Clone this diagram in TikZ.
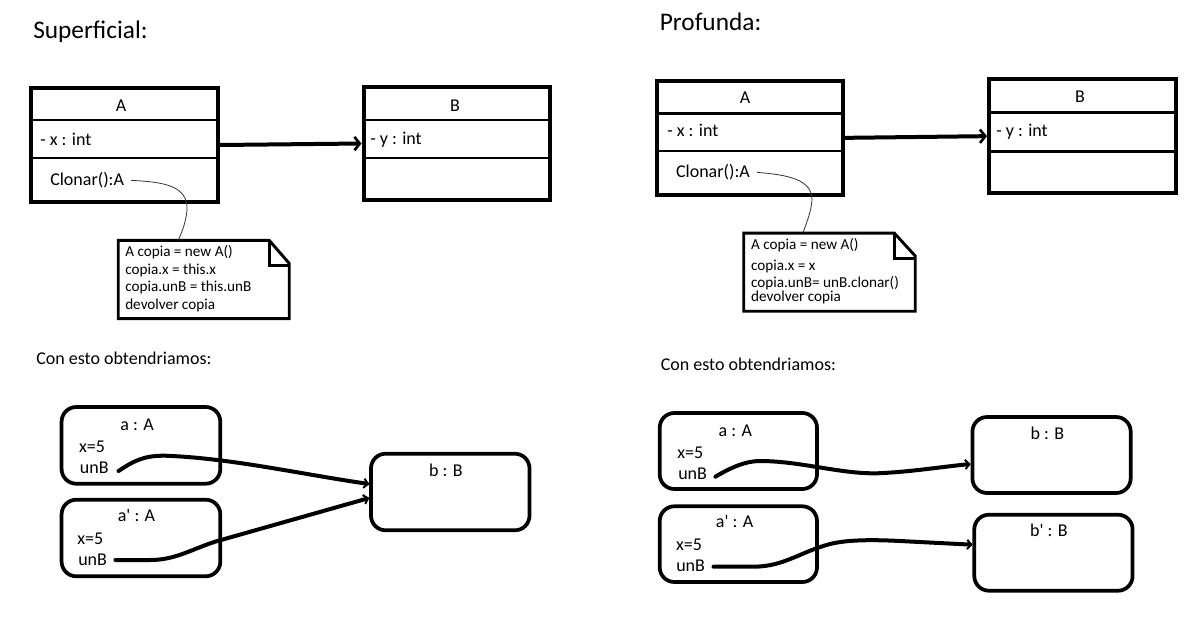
\documentclass[tikz,border=0pt]{standalone}
\usepackage{fontspec}
\setmainfont{Carlito}
\usetikzlibrary{arrows.meta,fit,calc}
\begin{document}
\begin{tikzpicture}[x=0.75pt,y=-0.75pt,
  classbox/.style={draw, line width=3pt, inner sep=0pt},
  sep/.style={line width=2pt},
  notebox/.style={inner sep=0pt},
  notedraw/.style={line width=2.2pt, line join=miter},
  objbox/.style={draw, line width=2.8pt, rounded corners=11pt, inner sep=0pt},
  txt/.style={anchor=base west, inner sep=0pt, font=\fontsize{13.5}{16}\selectfont},
  ctxt/.style={anchor=base, inner sep=0pt, font=\fontsize{13.5}{16}\selectfont},
  title/.style={anchor=base west, inner sep=0pt, font=\fontsize{19}{22}\selectfont},
  notetxt/.style={anchor=base west, inner sep=0pt, font=\fontsize{11.4}{13}\selectfont},
  assoc/.style={line width=3pt, -{Straight Barb[length=4pt,width=10pt,line width=2pt]}},
  ref/.style={line width=3pt, line cap=round, -{Straight Barb[length=3pt,width=7pt,line width=1.5pt]}},
  link/.style={line width=0.6pt, draw=black!80}
]
\useasboundingbox (0,0) rectangle (1200,629);

% ================= LEFT: Superficial =================
\node[title] (t1) at (33,38) {Superficial:};

\node[classbox, fit={(31,88) (218,202)}] (A1) {};
\draw[sep] (31,120) -- (218,120);
\draw[sep] (31,158) -- (218,158);
\node[ctxt] (A1n) at (121,111) {A};
\node[txt] (A1x) at (40,145.7) {- x : int};
\node[txt] (c1) at (50,185.7) {Clonar():A};

\node[classbox, fit={(363.5,87) (550,200)}] (B1) {};
\draw[sep] (363.5,120) -- (550,120);
\draw[sep] (363.5,158) -- (550,158);
\node[ctxt] (B1n) at (455,111) {B};
\node[txt] (B1y) at (370,144) {- y : int};

\draw[assoc] (A1.east) -- (B1.west);

\node[notebox, fit={(118.5,240.7) (289,318.3)}] (N1) {};
\draw[notedraw] (N1.south west) -- (N1.north west) -- ($(N1.north east)+(-20,0)$)
  -- ($(N1.north east)+(0,23)$) -- (N1.south east) -- cycle;
\draw[notedraw] ($(N1.north east)+(-20,0)$) -- ($(N1.north east)+(-20,25)$) -- ($(N1.north east)+(0,25)$);
\node[notetxt] (N1a) at (125,256.7) {A copia = new A()};
\node[notetxt] (N1b) at (125,274) {copia.x = this.x};
\node[notetxt] (N1c) at (125,291.7) {copia.unB = this.unB};
\node[notetxt] (N1d) at (125,309) {devolver copia};
\draw[link] ($(c1.east)+(7,0)$) .. controls (165,182) and (188,186) .. (187,210)
  .. controls (186,222) and (182,232) .. ($(N1.north west)!0.35!(N1.north east)$);

\node[txt] (t2) at (36,364.3) {Con esto obtendriamos:};

\node[objbox, fit={(61.6,407) (220.3,483.7)}] (oa1) {};
\node[ctxt] (oa1n) at (137,430.7) {a : A};
\node[txt] (oa1x) at (78.8,452.3) {x=5};
\node[txt] (oa1u) at (79.6,473.3) {unB};

\node[objbox, fit={(61.6,499.7) (220.3,576.3)}] (oa2) {};
\node[ctxt] (oa2n) at (136.5,521.7) {a\textquotesingle{} : A};
\node[txt] (oa2x) at (77,544) {x=5};
\node[txt] (oa2u) at (78,565) {unB};

\node[objbox, fit={(371,453.7) (529.5,530.3)}] (ob1) {};
\node[ctxt] (ob1n) at (446,476.7) {b : B};

\coordinate (s1) at (118.5,471);
\draw[ref] (s1) .. controls (135,460) and (145,455.5) .. (165,455.7)
  .. controls (230,458) and (300,474) .. ($(ob1.west)+(0,-8)$);
\coordinate (s2) at (115.4,560);
\draw[ref] (s2) -- (150,560) .. controls (175,560) and (190,550) .. (215,541.7)
  -- ($(ob1.west)+(0,6)$);

% ================= RIGHT: Profunda =================
\node[title] (t3) at (659.6,30) {Profunda:};

\node[classbox, fit={(657,81) (843,194.7)}] (A2) {};
\draw[sep] (657,113.3) -- (843,113.3);
\draw[sep] (657,151) -- (843,151);
\node[ctxt] (A2n) at (745,103.3) {A};
\node[txt] (A2x) at (667,136.7) {- x : int};
\node[txt] (c2) at (675.8,177.7) {Clonar():A};

\node[classbox, fit={(989,79.3) (1175.7,193)}] (B2) {};
\draw[sep] (989,112.7) -- (1175.7,112.7);
\draw[sep] (989,151.7) -- (1175.7,151.7);
\node[ctxt] (B2n) at (1080,102.7) {B};
\node[txt] (B2y) at (996,136) {- y : int};

\draw[assoc] (A2.east) -- (B2.west);

\node[notebox, fit={(744,233.3) (915,311)}] (N2) {};
\draw[notedraw] (N2.south west) -- (N2.north west) -- ($(N2.north east)+(-21,0)$)
  -- ($(N2.north east)+(0,23)$) -- (N2.south east) -- cycle;
\draw[notedraw] ($(N2.north east)+(-21,0)$) -- ($(N2.north east)+(-21,25)$) -- ($(N2.north east)+(0,25)$);
\node[notetxt] (N2a) at (750.8,249.3) {A copia = new A()};
\node[notetxt] (N2b) at (750.8,270) {copia.x = x};
\node[notetxt] (N2c) at (750.8,287.3) {copia.unB= unB.clonar()};
\node[notetxt] (N2d) at (750.8,301.7) {devolver copia};
\draw[link] ($(c2.east)+(7,0)$) .. controls (790,175) and (812,180) .. (812,200)
  .. controls (811,213) and (806,224) .. ($(N2.north west)!0.345!(N2.north east)$);

\node[txt] (t4) at (660.5,370) {Con esto obtendriamos:};

\node[objbox, fit={(659.7,413) (817,489)}] (pa1) {};
\node[ctxt] (pa1n) at (735.4,436.7) {a : A};
\node[txt] (pa1x) at (677,458.3) {x=5};
\node[txt] (pa1u) at (678,479) {unB};

\node[objbox, fit={(659.7,506.3) (817,582)}] (pa2) {};
\node[ctxt] (pa2n) at (734.6,527.3) {a\textquotesingle{} : A};
\node[txt] (pa2x) at (675.8,550) {x=5};
\node[txt] (pa2u) at (676,571.7) {unB};

\node[objbox, fit={(972.4,417) (1130.7,493)}] (pb1) {};
\node[ctxt] (pb1n) at (1047.3,439.3) {b : B};

\node[objbox, fit={(974.3,514.7) (1132.6,590.7)}] (pb2) {};
\node[ctxt] (pb2n) at (1049,536.7) {b\textquotesingle{} : B};

\coordinate (s3) at (715.4,476.7);
\draw[ref] (s3) .. controls (730,468) and (745,461) .. (760,461)
  .. controls (800,461) and (840,474) .. (877,473.3)
  .. controls (910,472) and (940,467) .. ($(pb1.west)+(0,9)$);
\coordinate (s4) at (713.5,566.7);
\draw[ref] (s4) -- (755,566.7) .. controls (785,566) and (800,552) .. (830,544)
  .. controls (850,539) and (880,540) .. (900,541) -- ($(pb2.west)+(0,-8)$);
\end{tikzpicture}
\end{document}
